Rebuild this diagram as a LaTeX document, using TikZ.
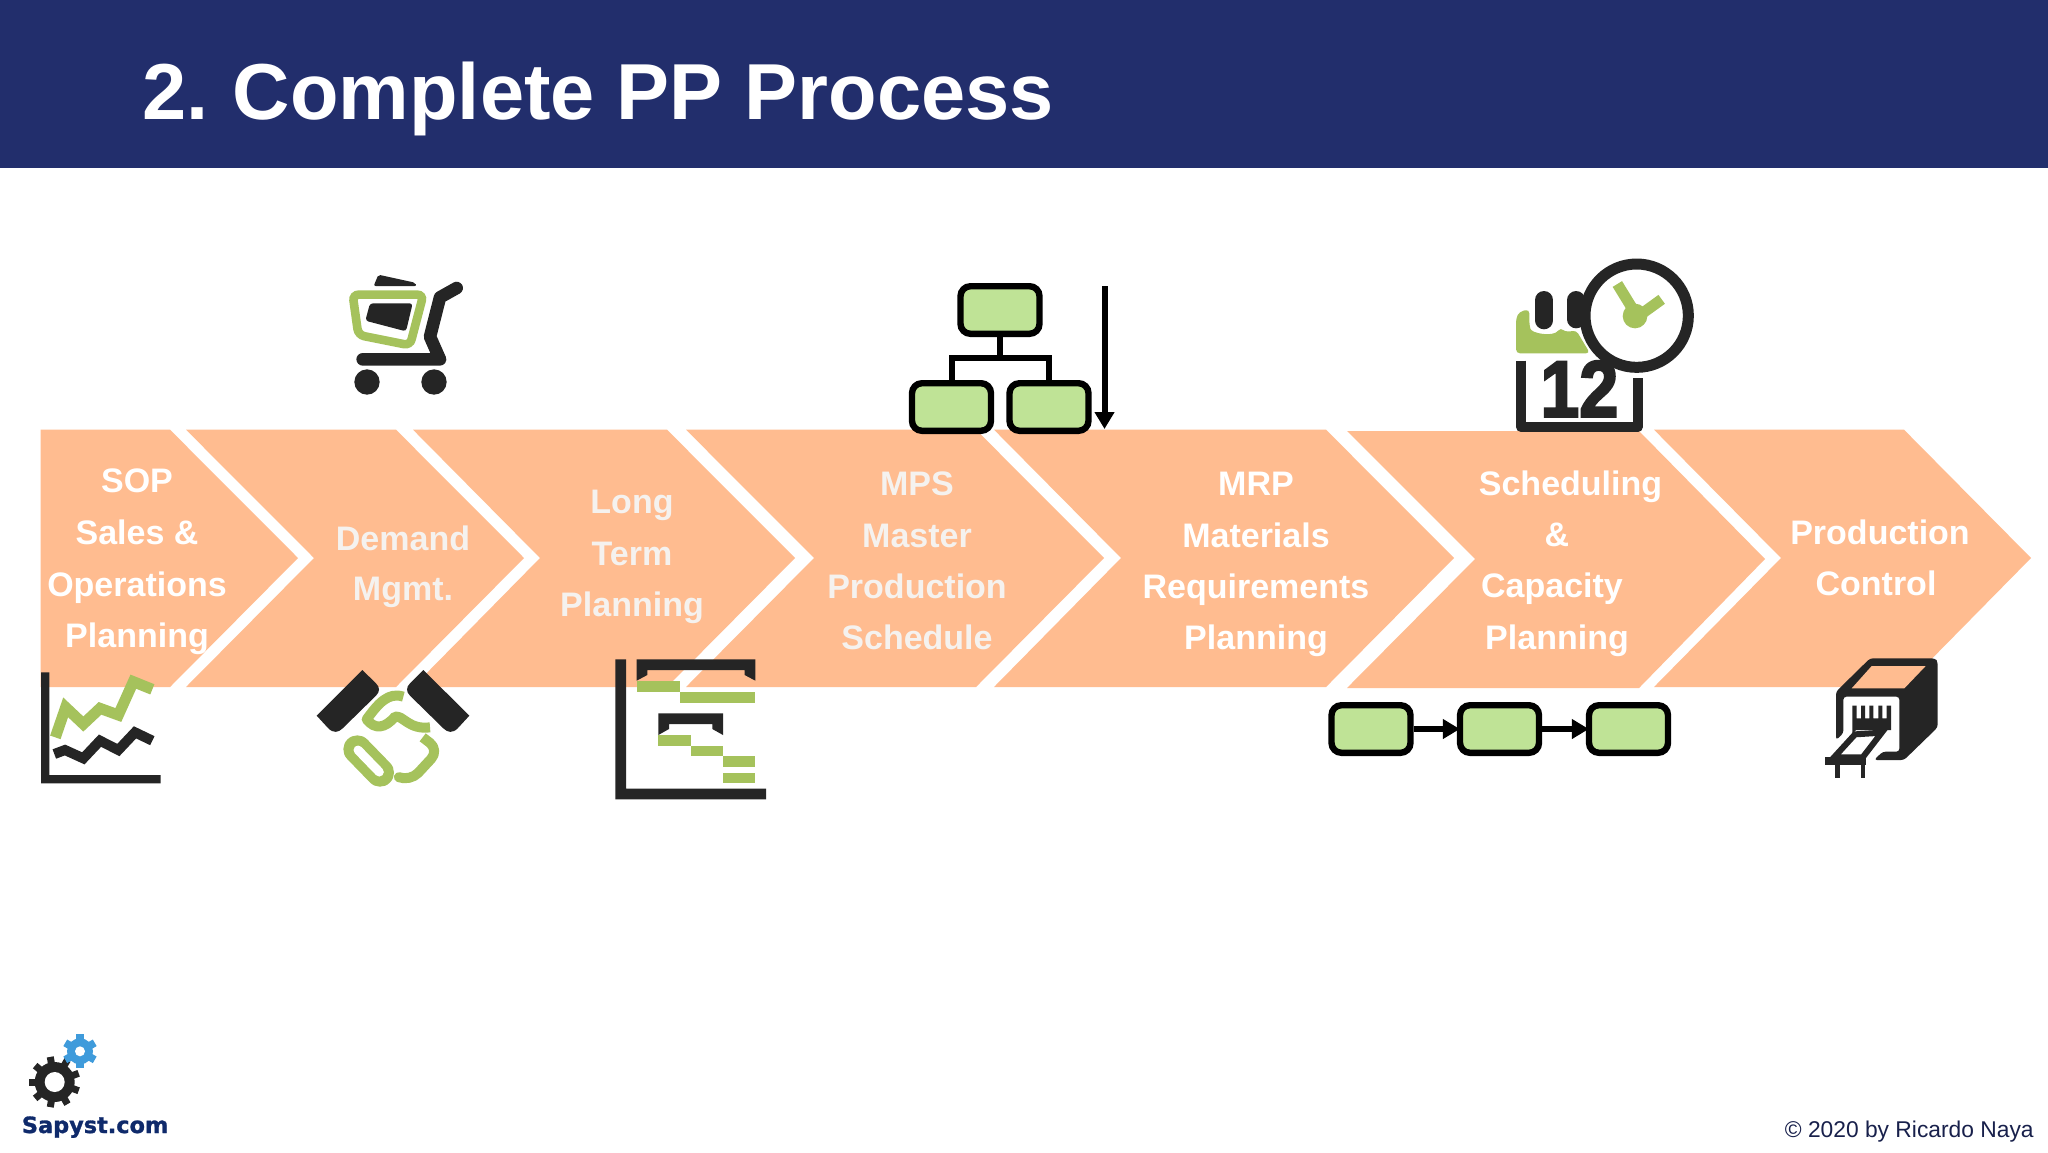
\documentclass[tikz,border=0pt]{standalone}
\usepackage{fontspec}
\setmainfont{Liberation Sans}
\newfontfamily\logofont[FakeBold=1.2]{DejaVu Sans Bold}
\newfontfamily\calfont[FakeBold=3]{Liberation Sans Bold}
\usetikzlibrary{arrows.meta}
\definecolor{navy}{HTML}{222E6C}
\definecolor{peach}{HTML}{FFBC90}
\definecolor{boxgreen}{HTML}{BFE396}
\definecolor{icongreen}{HTML}{A5C25C}
\definecolor{ink}{HTML}{252525}
\definecolor{logoblue}{HTML}{3F9BDB}
\definecolor{logonavy}{HTML}{0F2A6B}
\definecolor{fade}{HTML}{F5F2EF}
\tikzset{
  chevronfill/.style={fill=peach,draw=none},
  steplabel/.style={anchor=base,inner sep=0pt,text=white,font=\fontsize{17}{20}\selectfont\bfseries},
  fadelabel/.style={steplabel,text=fade},
  greenbox/.style={draw=black,fill=boxgreen,line width=3.2pt,rounded corners=5pt,minimum width=39.5pt,minimum height=23.8pt,inner sep=0pt},
  flowlink/.style={draw=black,line width=3pt},
  flowarrow/.style={draw=black,line width=3pt,-{Triangle[length=8.5pt,width=9.5pt]},shorten >=-1.5pt},
  iconink/.style={fill=ink,draw=none},
  icongreenfill/.style={fill=icongreen,draw=none},
  zoomed/.style={x=0.16667pt,y=-0.16667pt},
}
\newcommand{\chevron}[7]{% x0 notch top-right tip ytop ymid ybot
  \fill[chevronfill] (#1,#5) -- (#3,#5) -- (#4,#6) -- (#3,#7) -- (#1,#7) -- (#2,#6) -- cycle;}
\begin{document}
\begin{tikzpicture}[x=0.5pt,y=-0.5pt]
\useasboundingbox (0,0) rectangle (2048,1152);
\fill[white] (0,0) rectangle (2048,1152);
\fill[navy] (0,0) rectangle (2048,168);
\node[anchor=base west,inner sep=0pt,text=white,font=\fontsize{39.7}{44}\selectfont\bfseries] (title) at (142,119) {2.\hspace{-2.5pt} Complete PP Process};

% chevrons
\fill[chevronfill] (40.5,429.7) -- (170,429.7) -- (298,558) -- (170,687) -- (40.5,687) -- cycle;
\chevron{186}{314}{396}{524}{429.7}{558}{687}
\chevron{413}{540}{667}{795}{429.7}{558}{687}
\chevron{686}{814}{976}{1104}{429.7}{558}{687}
\chevron{994}{1121}{1326}{1454}{429.7}{558}{687}
\chevron{1347}{1475}{1639}{1765}{431}{559}{688}
\chevron{1654}{1781}{1904}{2031}{429.7}{558}{687}

% labels
\node[steplabel] (l1a) at (137,492.6) {SOP};
\node[steplabel] (l1b) at (137,544.5) {Sales \&};
\node[steplabel] (l1c) at (137,596) {Operations};
\node[steplabel] (l1d) at (137,647.5) {Planning};
\node[fadelabel] (l2a) at (403,550) {Demand};
\node[fadelabel] (l2b) at (403,600.5) {Mgmt.};
\node[fadelabel] (l3a) at (632,513) {Long};
\node[fadelabel] (l3b) at (632,565) {Term};
\node[fadelabel] (l3c) at (632,616.5) {Planning};
\node[fadelabel] (l4a) at (917,495.5) {MPS};
\node[fadelabel] (l4b) at (917,547.5) {Master};
\node[fadelabel] (l4c) at (917,598.5) {Production};
\node[fadelabel] (l4d) at (917,649.5) {Schedule};
\node[steplabel] (l5a) at (1256,495.5) {MRP};
\node[steplabel] (l5b) at (1256,547.5) {Materials};
\node[steplabel] (l5c) at (1256,598.5) {Requirements};
\node[steplabel] (l5d) at (1256,649.5) {Planning};
\node[steplabel] (l6a) at (1570.5,495.5) {Scheduling};
\node[steplabel] (l6b) at (1557,546) {\&};
\node[steplabel] (l6c) at (1552,597) {Capacity};
\node[steplabel] (l6d) at (1557,649) {Planning};
\node[steplabel] (l7a) at (1880,544.5) {Production};
\node[steplabel] (l7b) at (1876,595.5) {Control};

% org chart
\node[greenbox] (top) at (1000,310) {};
\node[greenbox] (left) at (951.5,407) {};
\node[greenbox] (right) at (1049,407) {};
\coordinate (junction) at (1000,358);
\draw[flowlink] (top.south) -- (junction);
\draw[flowlink] (left.north) |- (junction) -| (right.north);
\coordinate (arrowstart) at (1104.5,286);
\coordinate (arrowend) at (1104.5,429);
\draw[flowarrow,shorten >=0pt] (arrowstart) -- (arrowend);

% chain
\node[greenbox] (c1) at (1371,729) {};
\node[greenbox] (c2) at (1499.5,729) {};
\node[greenbox] (c3) at (1628.5,729) {};
\draw[flowarrow] (c1) -- (c2);
\draw[flowarrow] (c2) -- (c3);

% cart
\begin{scope}[shift={(330,260)},zoomed]
\fill[iconink,rounded corners=1pt] (131,78) -- (145,44) -- (255,68) -- (260,78) -- cycle;
\draw[icongreen,line width=4.3pt,rounded corners=3pt] (68,104) -- (280,104) -- (240,256) -- (85,225) -- cycle;
\fill[iconink,rounded corners=1.5pt] (120,130) -- (248,130) -- (228,214) -- (106,182) -- cycle;
\draw[ink,line width=6.3pt,line cap=round,line join=round] (380,84) -- (330,112) -- (300,230) -- (330,298) -- (98,298);
\fill[ink] (111,366) circle (38);
\fill[ink] (312,366) circle (38);
\end{scope}

% trend chart
\begin{scope}[shift={(20,650)},zoomed]
\fill[iconink] (63,67) -- (88,67) -- (88,375) -- (422,375) -- (422,400) -- (63,400) -- cycle;
\draw[icongreen,line width=5.5pt] (106,262) -- (137,172) -- (190,222) -- (240,175) -- (295,195) -- (340,95) -- (397,118);
\draw[ink,line width=5pt] (103,312) -- (135,300) -- (190,325) -- (240,272) -- (295,300) -- (345,247) -- (397,272);
\end{scope}

% handshake
\begin{scope}[shift={(20,650)},zoomed]
\fill[iconink] (1027,60) -- (1068,100) .. controls (1080,112) and (1080,125) .. (1068,137) -- (968,235) .. controls (955,248) and (940,250) .. (925,235) -- (890,197) -- cycle;
\fill[iconink] (1210,60) -- (1170,100) .. controls (1158,112) and (1158,125) .. (1170,137) -- (1270,235) .. controls (1283,248) and (1298,250) .. (1313,235) -- (1348,197) -- cycle;
\draw[icongreen,line width=5pt,line join=round] (1150,140) .. controls (1105,125) and (1075,160) .. (1040,208) .. controls (1065,240) and (1095,235) .. (1125,200) .. controls (1150,195) and (1165,240) .. (1230,232);
\draw[icongreen,line width=14pt,line cap=round] (1012,298) -- (1080,368);
\draw[white,line width=4.5pt,line cap=round] (1014,300) -- (1078,366);
\draw[icongreen,line width=5pt,line join=round,rounded corners=6pt] (1208,262) -- (1258,300) -- (1170,395) -- (1138,382);
\end{scope}

% gantt
\begin{scope}[shift={(600,650)},zoomed]
\fill[iconink] (46,28) -- (78,28) -- (78,416) -- (498,416) -- (498,448) -- (46,448) -- cycle;
\fill[iconink] (110,28) -- (466,28) -- (466,92) -- (434,75) -- (434,60) -- (142,60) -- (142,75) -- (110,92) -- cycle;
\fill[iconink] (175,190) -- (369,190) -- (369,255) -- (337,237) -- (337,222) -- (207,222) -- (207,237) -- (175,255) -- cycle;
\fill[icongreen] (110,93) rectangle (240,125);
\fill[icongreen] (240,126) rectangle (466,158);
\fill[icongreen] (175,255) rectangle (272,287);
\fill[icongreen] (272,287) rectangle (369,319);
\fill[icongreen] (369,319) rectangle (466,351);
\fill[icongreen] (369,368) rectangle (466,400);
\end{scope}

% calendar and clock
\begin{scope}[shift={(1490,250)},zoomed]
\fill[icongreenfill,rounded corners=2pt] (78,310) -- (78,205) -- (88,185) -- (118,178) -- (118,225) .. controls (125,250) and (190,262) .. (212,232) .. controls (225,245) and (240,245) .. (258,240) -- (300,310) -- cycle;
\draw[ink,line width=9pt,line cap=round] (162,150) -- (162,211);
\draw[ink,line width=9pt,line cap=round] (259,150) -- (259,208);
\draw[ink,line width=5pt,line join=round] (93,332) -- (93,531) -- (443,531) -- (443,385);
\node[anchor=base,inner sep=0pt,text=ink,font=\calfont\fontsize{35}{35}\selectfont,yscale=1.14] (calnum) at (268,500) {12};
\fill[white] (440,197) circle (155);
\draw[ink,line width=5.5pt] (440,197) circle (155);
\draw[icongreen,line width=5.5pt] (382,102) -- (436,190);
\draw[icongreen,line width=5.5pt] (515,148) -- (436,205);
\fill[icongreen] (435,198) circle (37);
\end{scope}

% production machine
\begin{scope}[shift={(1800,640)},zoomed]
\fill[iconink,rounded corners=1.5pt] (108,155) -- (210,55) -- (405,55) -- (413,65) -- (413,262) -- (312,360) -- (222,360) -- (248,335) -- (298,335) -- (298,170) -- (130,170) -- (130,280) -- (108,300) -- cycle;
\fill[peach] (155,145) -- (215,78) -- (377,78) -- (313,145) -- cycle;
\fill[iconink] (157,197) -- (170,197) -- (170,235) -- (183,235) -- (183,197) -- (195,197) -- (195,235) -- (208,235) -- (208,197) -- (220,197) -- (220,235) -- (235,235) -- (235,197) -- (247,197) -- (247,235) -- (260,235) -- (260,197) -- (273,197) -- (273,270) -- (168,270) -- (157,282) -- cycle;
\draw[ink,fill=white,line width=3pt,line join=miter] (102,352) -- (165,283) -- (245,278) -- (188,352) -- cycle;
\draw[ink,line width=4pt] (75,362) -- (197,362);
\draw[ink,line width=2.2pt] (112,365) -- (112,414);
\draw[ink,line width=2.2pt] (188,365) -- (188,414);
\end{scope}

% logo
\fill[ink] (54.7,1082) circle (20);
\foreach \a in {0,40,...,320} \draw[ink,line width=3.5pt] (54.7,1082) ++(\a+20:17) -- ++(\a+20:8.5);
\fill[white] (54.7,1082) circle (10);
\fill[logoblue] (80,1051.3) circle (13);
\foreach \a in {0,60,...,300} \draw[logoblue,line width=3.8pt] (80,1051.3) ++(\a+30:10) -- ++(\a+30:7);
\fill[white] (80,1051.3) circle (5);
\node[anchor=base west,inner sep=0pt,text=logonavy,font=\logofont\fontsize{11.2}{13}\selectfont] (logotext) at (21.5,1133) {Sapyst.com};
\node[anchor=base east,inner sep=0pt,text=navy!70!black,font=\fontsize{11.4}{14}\selectfont] (copy) at (2034,1137) {© 2020 by Ricardo Naya};
\end{tikzpicture}
\end{document}
